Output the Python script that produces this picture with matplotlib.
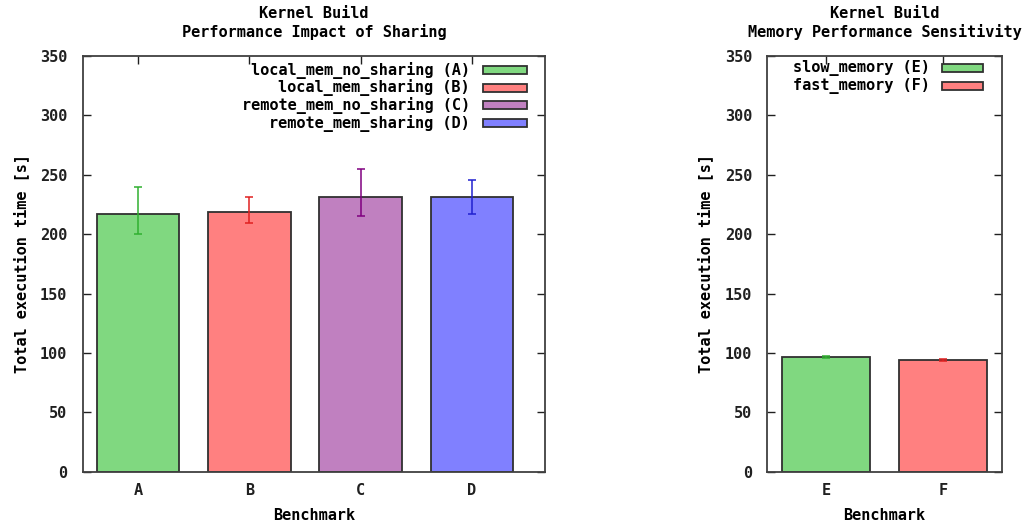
import matplotlib
matplotlib.use("Agg")
import matplotlib.pyplot as plt
from matplotlib.patches import Rectangle
import numpy as np

plt.rcParams['font.family'] = ['DejaVu Sans Mono']
plt.rcParams['font.weight'] = 'bold'
plt.rcParams['axes.labelweight'] = 'bold'
plt.rcParams['font.size'] = 11

# left chart: sharing impact
share_cats = ['A', 'B', 'C', 'D']
share_labels = ['local_mem_no_sharing (A)', 'local_mem_sharing (B)',
                'remote_mem_no_sharing (C)', 'remote_mem_sharing (D)']
share_vals = [217, 219, 231, 231]
share_lo = [200, 209, 215, 217]
share_hi = [240, 231, 255, 246]

# right chart: memory sensitivity
mem_cats = ['E', 'F']
mem_labels = ['slow_memory (E)', 'fast_memory (F)']
mem_vals = [96.3, 94.0]
mem_lo = [95.5, 93.5]
mem_hi = [97.2, 94.5]

fills = ['#80d880', '#ff8080', '#c080c0', '#8080ff']
errcols = ['#30b030', '#e02020', '#800080', '#2020d0']
edge = '#303030'

W, H = 1032, 529
fig = plt.figure(figsize=(W / 100, H / 100), dpi=100)
ax1 = fig.add_axes([82.5 / W, (H - 471.7) / H, (545.3 - 82.5) / W, (471.7 - 56) / H])
ax2 = fig.add_axes([767.3 / W, (H - 471.7) / H, (1002 - 767.3) / W, (471.7 - 56) / H])


def key(ax, labels, text_x, h0, h1, y0, dy):
    # gnuplot-style key: right-aligned text, swatch to its right (axes fractions)
    for i, lab in enumerate(labels):
        y = y0 - i * dy
        ax.text(text_x, y, lab, transform=ax.transAxes, ha='right', va='center',
                fontsize=11, fontweight='bold')
        ax.add_patch(Rectangle((h0, y - 0.0096), h1 - h0, 0.0192,
                               transform=ax.transAxes, facecolor=fills[i],
                               edgecolor=edge, linewidth=1.3, clip_on=False,
                               zorder=4))


def draw(ax, cats, vals, lo, hi, title, xmax, width):
    x = np.arange(len(cats))
    for i in range(len(cats)):
        ax.bar(x[i], vals[i], width=width, color=fills[i], edgecolor=edge,
               linewidth=1.3, zorder=2)
        ax.errorbar(x[i], vals[i], yerr=[[vals[i] - lo[i]], [hi[i] - vals[i]]],
                    fmt='none', ecolor=errcols[i], elinewidth=1.1, capsize=3,
                    capthick=1.1, zorder=3)
    ax.set_xlim(-0.5, xmax)
    ax.set_ylim(0, 350)
    ax.set_yticks(np.arange(0, 351, 50))
    ax.set_xticks(x)
    ax.set_xticklabels(cats)
    ax.tick_params(axis='y', direction='in', length=6, width=1, left=True,
                   right=True, pad=11, colors='#202020')
    ax.tick_params(axis='x', direction='in', length=6, width=1, bottom=False,
                   top=True, pad=8, colors='#202020')
    for s in ax.spines.values():
        s.set_color('#404040')
        s.set_linewidth(1.3)
    ax.set_ylabel('Total execution time [s]', labelpad=8)
    ax.set_xlabel('Benchmark', labelpad=7)
    ax.set_title(title, pad=14, fontsize=11, fontweight='bold', linespacing=1.2)


draw(ax1, share_cats, share_vals, share_lo, share_hi,
     'Kernel Build\nPerformance Impact of Sharing', 3.66, 0.74)
draw(ax2, mem_cats, mem_vals, mem_lo, mem_hi,
     'Kernel Build\nMemory Performance Sensitivity', 1.5, 0.75)

key(ax1, share_labels, 0.837, 0.865, 0.960, 0.966, 0.0425)
key(ax2, mem_labels, 0.694, 0.746, 0.920, 0.970, 0.0415)

fig.savefig('out.png', dpi=100)
